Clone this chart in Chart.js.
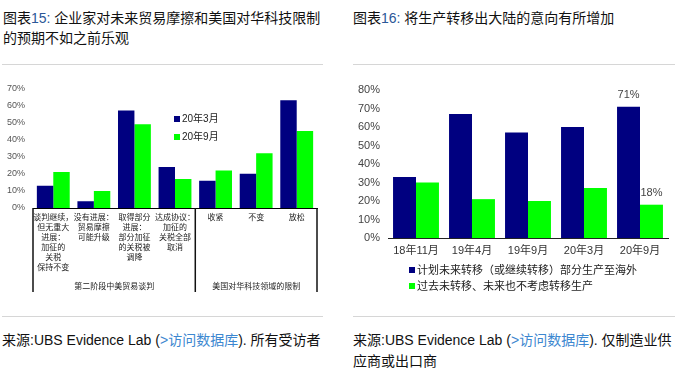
<!DOCTYPE html>
<html lang="zh">
<head>
<meta charset="UTF-8">
<title>图表15 / 图表16</title>
<script src="https://cdn.jsdelivr.net/npm/chart.js"></script>
<style>
  body {
    margin: 0;
    width: 685px;
    height: 372px;
    position: relative;
    overflow: hidden;
    background: #fff;
    color: #111;
    font-family: "Liberation Sans", Arial, "Noto Sans CJK SC", sans-serif;
  }
  .title { position: absolute; top: 8px; font-size: 14px; line-height: 20px; white-space: nowrap; }
  .num { color: #2b5797; }
  .rule { position: absolute; height: 0; border-top: 1px solid #d6d6d6; }
  .source { position: absolute; top: 330px; font-size: 14px; line-height: 21px; white-space: nowrap; }
  .source a { color: #3c87d0; text-decoration: none; }
  .box { position: absolute; }
  canvas { display: block; }
</style>
</head>
<body>

<div class="title" style="left:3px">图表<span class="num">15:</span> 企业家对未来贸易摩擦和美国对华科技限制<br>的预期不如之前乐观</div>
<div class="rule" style="left:2px; top:64px; width:321px"></div>
<div class="box" style="left:0; top:75px"><canvas id="tradeChart" width="325" height="225"></canvas></div>
<div class="rule" style="left:2px; top:316px; width:321px"></div>
<div class="source" style="left:2px">来源:UBS Evidence Lab (<a>&gt;访问数据库</a>). 所有受访者</div>

<div class="title" style="left:353px">图表<span class="num">16:</span> 将生产转移出大陆的意向有所增加</div>
<div class="rule" style="left:353px; top:64px; width:322px"></div>
<div class="box" style="left:340px; top:75px"><canvas id="moveChart" width="345" height="225"></canvas></div>
<div class="rule" style="left:353px; top:316px; width:322px"></div>
<div class="source" style="left:353px">来源:UBS Evidence Lab (<a>&gt;访问数据库</a>). 仅制造业供<br>应商或出口商</div>

<script>
// chart 15: expectations on trade talks / US tech restrictions
const tradeCategories = [
    ['谈判继续，', '但无重大', '进展：', '加征的', '关税', '保持不变'],
    ['没有进展：', '贸易摩擦', '可能升级'],
    ['取得部分', '进展：', '部分加征', '的关税被', '调降'],
    ['达成协议：', '加征的', '关税全部', '取消'],
    '收紧', '不变', '放松'
];
const tradeGroups = ['第二阶段中美贸易谈判', '美国对华科技领域的限制'];
const tradeGroupSizes = [4, 3];
const tradeSeries = ['20年3月', '20年9月'];
const tradeMar20 = [13, 4, 57, 24, 16, 20, 63];
const tradeSep20 = [21, 10, 49, 17, 22, 32, 45];
const tradeMax = 70;

// chart 16: intention to move production out of mainland
const moveCategories = ['18年11月', '19年4月', '19年9月', '20年3月', '20年9月'];
const moveSeries = ['计划未来转移（或继续转移）部分生产至海外', '过去未转移、未来也不考虑转移生产'];
const movePlan = [33, 67, 57, 60, 71];
const moveNever = [30, 21, 20, 27, 18];
const moveLabelled = ['20年9月'];
const moveMax = 80;

const NAVY = '#000080';
const GREEN = '#00ff00';

Chart.defaults.font.family = '"Liberation Sans", Arial, "Noto Sans CJK SC", sans-serif';
Chart.defaults.animation = false;

// legend drawn at a fixed spot inside the canvas
const boxLegend = {
    id: 'boxLegend',
    afterDraw(chart, args, opts) {
        const ctx = chart.ctx;
        ctx.save();
        ctx.font = opts.size + 'px ' + Chart.defaults.font.family;
        ctx.textBaseline = 'middle';
        ctx.textAlign = 'left';
        chart.data.datasets.forEach((ds, i) => {
            const y = opts.y + i * opts.gap;
            ctx.fillStyle = ds.backgroundColor;
            ctx.fillRect(opts.x, y - 3, 6, 6);
            ctx.fillStyle = '#222';
            ctx.fillText(ds.label, opts.x + 8, y + 0.5);
        });
        ctx.restore();
    }
};

// bracket lines + group names under the category axis
const groupBrackets = {
    id: 'groupBrackets',
    afterDraw(chart, args, opts) {
        const ctx = chart.ctx, area = chart.chartArea, x = chart.scales.x;
        const bottom = area.bottom + opts.depth;
        const n = chart.data.labels.length;
        ctx.save();
        ctx.strokeStyle = '#111';
        ctx.lineWidth = 1.5;
        ctx.fillStyle = '#222';
        ctx.font = '8px ' + Chart.defaults.font.family;
        ctx.textAlign = 'center';
        ctx.textBaseline = 'middle';
        let start = 0;
        let left = area.left;
        const edges = [left];
        opts.sizes.forEach((size, g) => {
            const end = start + size - 1;
            const right = end < n - 1
                ? (x.getPixelForTick(end) + x.getPixelForTick(end + 1)) / 2
                : area.right;
            edges.push(right);
            ctx.fillText(opts.names[g], (left + right) / 2, bottom - 5);
            left = right;
            start += size;
        });
        edges.forEach(e => {
            ctx.beginPath();
            ctx.moveTo(e, area.bottom);
            ctx.lineTo(e, bottom);
            ctx.stroke();
        });
        ctx.restore();
    }
};

// value text over the bars of chosen categories
const barValues = {
    id: 'barValues',
    afterDatasetsDraw(chart, args, opts) {
        const ctx = chart.ctx;
        ctx.save();
        ctx.font = '11px ' + Chart.defaults.font.family;
        ctx.fillStyle = '#444';
        ctx.textAlign = 'center';
        ctx.textBaseline = 'bottom';
        chart.data.datasets.forEach((ds, d) => {
            const meta = chart.getDatasetMeta(d);
            chart.data.labels.forEach((lab, i) => {
                if (!opts.categories.includes(lab)) return;
                const bar = meta.data[i];
                ctx.fillText(ds.data[i] + '%', bar.x, bar.y - 6);
            });
        });
        ctx.restore();
    }
};

new Chart(document.getElementById('tradeChart'), {
    type: 'bar',
    data: {
        labels: tradeCategories,
        datasets: [
            { label: tradeSeries[0], data: tradeMar20, backgroundColor: NAVY },
            { label: tradeSeries[1], data: tradeSep20, backgroundColor: GREEN }
        ]
    },
    options: {
        responsive: false,
        layout: { padding: { top: 13, right: 8, left: 0, bottom: 0 } },
        datasets: { bar: { categoryPercentage: 0.81, barPercentage: 1.0 } },
        plugins: {
            legend: { display: false },
            tooltip: { enabled: false },
            boxLegend: { x: 174, y: 44, gap: 18, size: 10 },
            groupBrackets: { names: tradeGroups, sizes: tradeGroupSizes, depth: 84 }
        },
        scales: {
            x: {
                grid: { display: false, drawTicks: false },
                border: { display: true, color: '#000', width: 1 },
                ticks: { font: { size: 8, lineHeight: 1.25 }, color: '#222', padding: 5,
                         maxRotation: 0, autoSkip: false },
                afterFit: s => { s.height = 92; }
            },
            y: {
                min: 0, max: tradeMax,
                grid: { display: false, drawTicks: false },
                border: { display: false },
                ticks: { stepSize: 10, callback: v => v + '%', font: { size: 9 }, color: '#555', padding: 8 },
                afterFit: s => { s.width = 33; }
            }
        }
    },
    plugins: [boxLegend, groupBrackets]
});

new Chart(document.getElementById('moveChart'), {
    type: 'bar',
    data: {
        labels: moveCategories,
        datasets: [
            { label: moveSeries[0], data: movePlan, backgroundColor: NAVY },
            { label: moveSeries[1], data: moveNever, backgroundColor: GREEN }
        ]
    },
    options: {
        responsive: false,
        layout: { padding: { top: 15, right: 17, left: 0, bottom: 0 } },
        datasets: { bar: { categoryPercentage: 0.82, barPercentage: 1.0 } },
        plugins: {
            legend: { display: false },
            tooltip: { enabled: false },
            boxLegend: { x: 69, y: 195, gap: 16, size: 11 },
            barValues: { categories: moveLabelled }
        },
        scales: {
            x: {
                grid: { display: false, drawTicks: false },
                border: { display: true, color: '#222', width: 1 },
                ticks: { font: { size: 11 }, color: '#333', padding: 6, maxRotation: 0 },
                afterFit: s => { s.height = 62; }
            },
            y: {
                min: 0, max: moveMax,
                grid: { display: false, drawTicks: false },
                border: { display: false },
                ticks: { stepSize: 10, callback: v => v + '%', font: { size: 11 }, color: '#444', padding: 8 },
                afterFit: s => { s.width = 48; }
            }
        }
    },
    plugins: [boxLegend, barValues]
});
</script>

</body>
</html>
